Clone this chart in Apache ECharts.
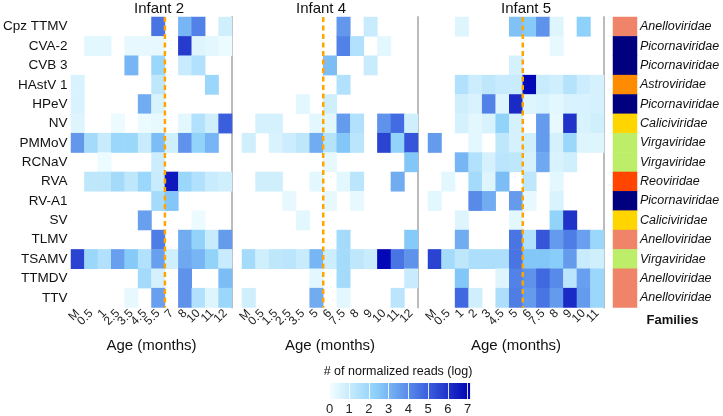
<!DOCTYPE html>
<html><head><meta charset="utf-8">
<script src="https://cdn.jsdelivr.net/npm/echarts@6/dist/echarts.min.js"></script>
<style>html,body{margin:0;padding:0;background:#fff}#c{width:723px;height:416px}</style>
</head><body><div id="c"></div>
<script>
// ---------------- DATA ----------------
const viruses = ['Cpz TTMV','CVA-2','CVB 3','HAstV 1','HPeV','NV','PMMoV','RCNaV','RVA','RV-A1','SV','TLMV','TSAMV','TTMDV','TTV'];
const families = ['Anelloviridae','Picornaviridae','Picornaviridae','Astroviridae','Picornaviridae','Caliciviridae','Virgaviridae','Virgaviridae','Reoviridae','Picornaviridae','Caliciviridae','Anelloviridae','Virgaviridae','Anelloviridae','Anelloviridae'];
const panelTitles = ['Infant 2','Infant 4','Infant 5'];
const infant2Ages = ['M','0.5','1','2.5','3.5','4.5','5.5','7','8','10','11','12'];
const infant4Ages = ['M','0.5','1.5','2.5','3.5','5','6','7.5','8','9','10','11','12'];
const infant5Ages = ['M','0.5','1','2','3','4.5','5','6','7.5','8','9','10','11'];
const markerAfterAge = ['5.5','5','5'];
const colorbarTicks = [0,1,2,3,4,5,6,7];
const _ = null;
const infant2Reads = [
  [_,_,_,_,_,_,4.5,_,3.0,4.2,_,0.8],
  [_,0.4,0.4,_,0.3,0.3,0.3,_,5.8,0.5,0.4,0.2],
  [_,_,_,_,3.0,_,2.0,_,1.0,1.5,_,_],
  [0.6,_,_,_,_,_,1.2,_,_,_,2.0,_],
  [0.6,_,_,_,_,3.2,0.6,_,_,_,_,_],
  [0.5,_,_,0.2,_,0.2,0.3,_,0.4,1.5,0.8,5.0],
  [3.7,1.8,1.0,2.0,2.0,1.0,2.8,0.8,3.8,2.2,3.0,_],
  [_,_,0.2,_,_,_,0.9,_,_,_,_,_],
  [_,1.2,1.2,1.8,1.2,2.0,1.0,6.6,2.0,1.5,1.0,0.8],
  [_,_,_,_,_,_,1.8,2.6,_,_,_,_],
  [_,_,_,_,_,3.5,_,_,_,0.2,_,_],
  [_,_,_,_,_,_,4.3,_,3.2,2.2,1.0,3.6],
  [5.6,2.0,1.5,3.5,2.5,1.5,3.5,0.8,3.3,3.0,2.2,1.0],
  [_,_,_,_,_,1.8,0.7,_,3.8,_,_,2.8],
  [_,_,_,_,0.3,_,3.5,_,3.8,1.5,0.5,2.0]
];
const infant4Reads = [
  [_,_,_,_,_,_,_,3.7,_,1.0,_,_,_],
  [_,_,_,_,_,_,_,4.2,1.5,_,0.4,_,_],
  [_,_,_,_,_,_,2.8,_,_,1.0,_,_,_],
  [_,_,_,_,_,_,_,1.5,_,_,_,_,_],
  [_,_,_,_,0.4,_,0.8,_,_,_,_,_,_],
  [_,0.7,0.7,_,_,0.4,0.4,3.6,1.5,_,3.8,4.7,0.8],
  [0.8,_,0.6,0.9,1.2,3.2,1.4,2.6,1.3,_,5.6,2.2,5.2],
  [_,_,_,_,_,_,0.3,_,_,_,_,_,2.6],
  [_,0.8,0.8,_,_,0.4,_,0.4,1.3,_,_,3.2,_],
  [_,_,_,0.3,_,_,0.3,_,0.3,_,_,_,_],
  [_,_,_,_,0.4,_,_,_,_,_,_,_,_],
  [_,_,_,_,_,_,_,1.8,_,_,_,_,2.5],
  [1.8,0.8,1.2,1.3,1.0,3.0,0.9,1.8,1.2,1.0,7.0,4.5,3.8],
  [_,_,_,_,_,0.4,_,1.8,_,_,_,_,1.0],
  [0.8,_,_,_,_,3.2,_,0.4,_,_,_,1.3,_]
];
const infant5Reads = [
  [_,_,0.5,_,_,_,2.7,2.5,3.8,0.5,_,2.3,_],
  [_,_,_,_,_,_,_,_,_,0.3,_,_,_],
  [_,_,_,_,_,_,0.7,_,_,_,_,_,_],
  [_,_,1.5,0.9,1.2,1.0,1.0,7.0,1.0,0.8,1.4,0.9,0.7],
  [_,_,0.8,0.6,4.2,0.5,6.2,0.5,0.6,0.4,0.6,0.6,0.7],
  [_,_,0.7,0.4,0.6,2.2,0.7,_,3.6,0.3,6.0,0.6,0.8],
  [3.6,_,_,0.4,_,1.2,0.7,0.8,3.6,0.7,2.0,0.5,0.5],
  [_,_,3.0,1.5,0.7,1.3,1.2,0.7,3.3,0.6,0.8,_,_],
  [_,0.4,_,1.8,0.5,2.8,_,1.2,_,0.4,_,_,_],
  [0.4,_,_,4.0,3.2,_,3.6,0.3,_,0.6,_,_,_],
  [_,_,0.5,_,_,_,0.4,_,_,2.2,6.0,_,_],
  [_,_,3.2,_,_,_,4.5,1.5,5.2,3.6,4.3,3.5,2.0],
  [5.6,1.8,1.2,1.6,1.6,1.6,4.5,2.6,2.6,2.4,3.6,1.0,0.8],
  [_,_,2.6,_,_,0.5,4.2,3.8,4.8,4.0,1.3,3.5,2.0],
  [_,_,4.8,0.8,_,1.6,4.3,3.6,4.5,3.6,6.2,3.6,2.0]
];

// ---------------- STYLE ----------------
const FONT = '"Liberation Sans", Arial, Helvetica, sans-serif';
const familyColors = {
  Anelloviridae:'#F08468', Picornaviridae:'#00007F', Astroviridae:'#FF8C00',
  Caliciviridae:'#FFD500', Virgaviridae:'#BDEE6A', Reoviridae:'#FF4500'
};
const scaleColors = ['#F4FFFF','#8ACFFA','#4169E1','#0000B2'];
const scaleMax = 7.15;
const TOP = 17, H = 290.5;
const gridLayout = [{left:70,width:162},{left:242,width:176},{left:428,width:176}];
const titleCenters = [159,321,526];

const panels = [
  {ages: infant2Ages, values: infant2Reads},
  {ages: infant4Ages, values: infant4Reads},
  {ages: infant5Ages, values: infant5Reads}
];

function toCells(values){
  const out = [];
  values.forEach((row,i)=>row.forEach((v,j)=>{ if(v!==null) out.push([j,i,v]); }));
  return out;
}

const chart = echarts.init(document.getElementById('c'), null, {renderer:'canvas'});

const grids = gridLayout.map(g=>({left:g.left, width:g.width, top:TOP, height:H, containLabel:false}));
grids.push({left:613, width:24, top:TOP, height:H});
grids.push({left:329.5, width:141, top:383, height:16, show:true, borderWidth:0,
  backgroundColor:{type:'linear',x:0,y:0,x2:1,y2:0,colorStops:scaleColors.map((c,i)=>({offset:i/(scaleColors.length-1),color:c}))}});

const xAxes = panels.map((p,g)=>({
  type:'category', gridIndex:g, data:p.ages, boundaryGap:true,
  axisLine:{show:false}, axisTick:{show:false}, splitLine:{show:false},
  axisLabel:{interval:0, rotate:45, fontSize:12, color:'#222', fontFamily:FONT, margin:4},
  name:'Age (months)', nameLocation:'middle', nameGap:31,
  nameTextStyle:{fontSize:15, color:'#111', fontFamily:FONT}
}));
xAxes.push({type:'category', gridIndex:3, data:['f'], show:false});
xAxes.push({type:'value', gridIndex:4, min:0, max:scaleMax, interval:1,
  axisLine:{show:false}, axisTick:{show:false},
  splitLine:{show:true, lineStyle:{color:'rgba(255,255,255,0.85)', width:1}},
  axisLabel:{fontSize:13, color:'#222', fontFamily:FONT, margin:4, showMaxLabel:false,
    formatter:v=>colorbarTicks.indexOf(v)>=0?String(v):''}});

const yBase = {type:'category', data:viruses, inverse:true, axisTick:{show:false}, splitLine:{show:false}};
const yAxes = [
  Object.assign({}, yBase, {gridIndex:0, position:'left', axisLine:{show:false},
    axisLabel:{fontSize:13.5, color:'#111', fontFamily:FONT, margin:3.5}}),
  Object.assign({}, yBase, {gridIndex:0, position:'right', axisLabel:{show:false},
    axisLine:{show:true, lineStyle:{color:'#BBBBBB', width:2}}}),
  Object.assign({}, yBase, {gridIndex:1, position:'right', axisLabel:{show:false},
    axisLine:{show:true, lineStyle:{color:'#BBBBBB', width:2}}}),
  Object.assign({}, yBase, {gridIndex:2, position:'right', axisLabel:{show:false},
    axisLine:{show:true, lineStyle:{color:'#BBBBBB', width:2}}}),
  Object.assign({}, yBase, {gridIndex:3, position:'right', axisLine:{show:false},
    axisLabel:{fontSize:12.5, fontStyle:'italic', color:'#111', fontFamily:FONT, margin:3,
      formatter:(v,i)=>families[i]}}),
  {type:'value', gridIndex:4, show:false, min:0, max:1}
];
const yIdx = [0,2,3];

const series = panels.map((p,g)=>({
  type:'heatmap', xAxisIndex:g, yAxisIndex:yIdx[g], data:toCells(p.values),
  emphasis:{disabled:true}, itemStyle:{borderWidth:0}
}));
series.push({
  type:'heatmap', xAxisIndex:3, yAxisIndex:4, emphasis:{disabled:true},
  data: families.map((f,i)=>({value:[0,i,0], itemStyle:{color:familyColors[f]}}))
});

const textStyleBase = {fontFamily:FONT, fill:'#111', textAlign:'center', textVerticalAlign:'middle'};
const graphics = panelTitles.map((t,g)=>({type:'text', x:titleCenters[g], y:9,
  style:Object.assign({}, textStyleBase, {text:t, fontSize:15})}));
graphics.push({type:'text', x:672.5, y:320, style:Object.assign({}, textStyleBase, {text:'Families', fontSize:13, fontWeight:'bold'})});
graphics.push({type:'text', x:398, y:372, style:Object.assign({}, textStyleBase, {text:'# of normalized reads (log)', fontSize:12.5})});

chart.setOption({
  animation:false,
  backgroundColor:'#ffffff',
  textStyle:{fontFamily:FONT},
  grid:grids, xAxis:xAxes, yAxis:yAxes,
  visualMap:{type:'continuous', show:false, min:0, max:scaleMax, seriesIndex:[0,1,2], dimension:2,
    inRange:{color:scaleColors}},
  series:series,
  graphic:graphics
});

// dashed marker lines between the two ages around 6 months
panels.forEach((p,g)=>{
  const k = p.ages.indexOf(markerAfterAge[g]);
  const a = chart.convertToPixel({xAxisIndex:g}, p.ages[k]);
  const b = chart.convertToPixel({xAxisIndex:g}, p.ages[k+1]);
  const x = (a+b)/2;
  graphics.push({type:'line', z:100, shape:{x1:x, y1:TOP, x2:x, y2:TOP+H},
    style:{stroke:'#FFA500', lineWidth:2.5, lineDash:[5,3.5]}});
});
chart.setOption({graphic:graphics});
</script></body></html>
